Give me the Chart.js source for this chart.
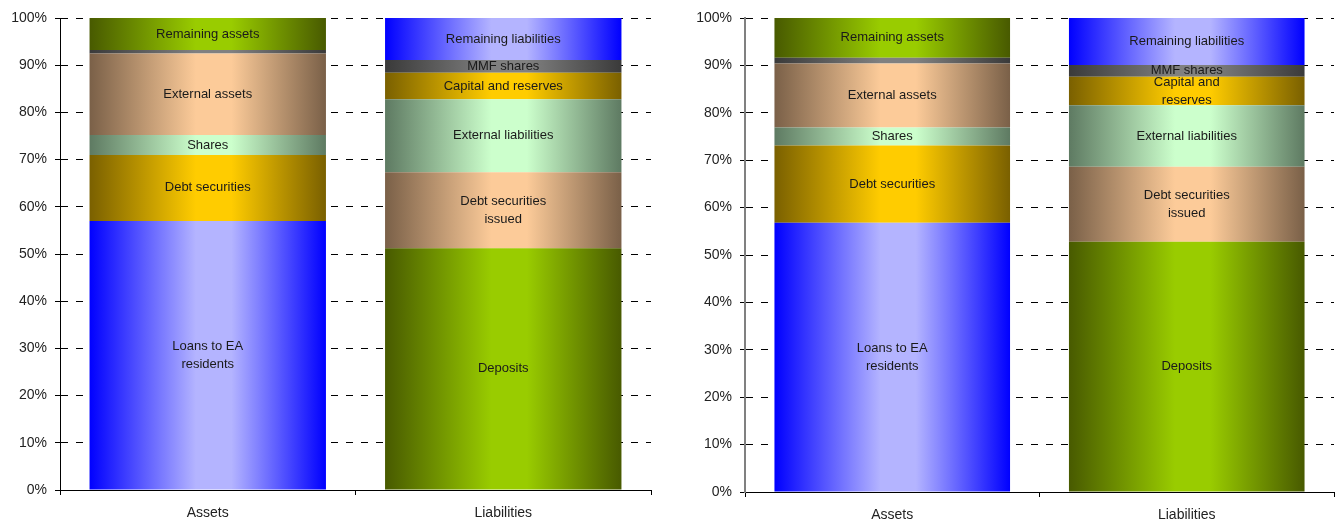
<!DOCTYPE html>
<html>
<head>
<meta charset="utf-8">
<script src="https://cdn.jsdelivr.net/npm/chart.js@4"></script>
<style>
  html, body { margin: 0; padding: 0; background: #fff; }
  body { width: 1335px; height: 520px; position: relative; overflow: hidden; }
  .panel { position: absolute; top: 0; }
</style>
</head>
<body>
<div class="panel" style="left:0"><canvas id="leftChart" width="660" height="520"></canvas></div>
<div class="panel" style="left:670px"><canvas id="rightChart" width="665" height="520"></canvas></div>
<script>
// ======================================
// DATA
// ======================================
const categories = ['Assets', 'Liabilities'];
const yTicks = [0, 10, 20, 30, 40, 50, 60, 70, 80, 90, 100];

// stacking layers, bottom to top (%)
const leftAssets = [57.0, 14.0, 4.2, 17.3, 0.7, 6.8];
const leftLiabilities = [51.2, 16.1, 15.5, 5.6, 2.7, 8.9];
const rightAssets = [56.8, 16.3, 3.8, 13.5, 1.2, 8.4];
const rightLiabilities = [52.8, 15.8, 13.0, 6.0, 2.5, 9.9];

const assetNames = ['Loans to EA\nresidents', 'Debt securities', 'Shares', 'External assets', '', 'Remaining assets'];
const liabilityNamesLeft = ['Deposits', 'Debt securities\nissued', 'External liabilities', 'Capital and reserves', 'MMF shares', 'Remaining liabilities'];
const liabilityNamesRight = ['Deposits', 'Debt securities\nissued', 'External liabilities', 'Capital and\nreserves', 'MMF shares', 'Remaining liabilities'];

const assetColors = ['blue', 'gold', 'mint', 'peach', 'gray', 'olive'];
const liabilityColors = ['olive', 'peach', 'mint', 'gold', 'gray', 'blue'];

// dark edge / light centre of each cylinder-like fill
const PALETTE = {
    blue:  { dark: '#0000ff', light: '#b4b4ff' },
    olive: { dark: '#485a00', light: '#99cc00' },
    peach: { dark: '#7a6048', light: '#fccb99' },
    mint:  { dark: '#5e7a62', light: '#ccffcc' },
    gold:  { dark: '#7a6000', light: '#ffcc00' },
    gray:  { dark: '#3a3a3a', light: '#808080' }
};

const FONT = '"Liberation Sans", Arial, sans-serif';
const BAR_PCT = 0.8;

// ======================================
// HELPERS
// ======================================
function barFill(c, key) {
    const pal = PALETTE[key];
    const chart = c.chart;
    if (!chart.chartArea) return pal.light;
    const xs = chart.scales.x;
    const cx = xs.getPixelForValue(c.dataIndex);
    const half = xs.width / categories.length * BAR_PCT / 2;
    const g = chart.ctx.createLinearGradient(cx - half, 0, cx + half, 0);
    g.addColorStop(0, pal.dark);
    g.addColorStop(0.45, pal.light);
    g.addColorStop(0.6, pal.light);
    g.addColorStop(1, pal.dark);
    return g;
}

// writes the segment names in the middle of each piece of the stack
const segmentLabels = {
    id: 'segmentLabels',
    afterDatasetsDraw(chart, args, opts) {
        const ctx = chart.ctx;
        ctx.save();
        ctx.font = '13px ' + FONT;
        ctx.fillStyle = '#1a1a1a';
        ctx.textAlign = 'center';
        ctx.textBaseline = 'middle';
        chart.data.datasets.forEach((ds, i) => {
            const meta = chart.getDatasetMeta(i);
            meta.data.forEach((bar, j) => {
                const text = opts.names[j][i];
                if (!text) return;
                const lines = text.split('\n');
                const cy = (bar.y + bar.base) / 2;
                lines.forEach((ln, k) => {
                    ctx.fillText(ln, bar.x, cy + (k - (lines.length - 1) / 2) * 18);
                });
            });
        });
        ctx.restore();
    }
};

function buildChart(canvasId, assets, liabilities, liabNames, layout) {
    const datasets = assets.map((v, i) => ({
        label: 'layer' + i,
        data: [v, liabilities[i]],
        backgroundColor: c => barFill(c, [assetColors[i], liabilityColors[i]][c.dataIndex]),
        borderWidth: 0,
        barPercentage: BAR_PCT,
        categoryPercentage: 1
    }));

    return new Chart(document.getElementById(canvasId), {
        type: 'bar',
        data: { labels: categories, datasets },
        options: {
            responsive: false,
            animation: false,
            layout: { padding: { top: 18, right: layout.right, left: 0, bottom: 0 } },
            plugins: {
                legend: { display: false },
                tooltip: { enabled: false },
                segmentLabels: { names: [assetNames, liabNames] }
            },
            scales: {
                x: {
                    stacked: true,
                    grid: { drawOnChartArea: false, drawTicks: true, tickLength: 5, color: '#000', offset: true },
                    border: { display: true, color: '#000', width: 1, z: 1 },
                    ticks: { color: '#222', font: { family: FONT, size: 14 }, padding: 10 },
                    afterFit: s => { s.height = layout.xh; }
                },
                y: {
                    stacked: true,
                    min: 0,
                    max: 100,
                    afterBuildTicks: s => { s.ticks = yTicks.map(v => ({ value: v })); },
                    grid: { color: '#000', lineWidth: 1, tickLength: 5, tickColor: '#000', tickBorderDash: [] },
                    border: { display: true, color: layout.axisColor, width: layout.axisWidth, dash: [7, 8], z: 1 },
                    ticks: {
                        color: '#222',
                        font: { family: FONT, size: 14 },
                        padding: 8,
                        callback: v => v + '%'
                    },
                    afterFit: s => { s.width = layout.yw; }
                }
            }
        },
        plugins: [segmentLabels]
    });
}

document.addEventListener('DOMContentLoaded', function() {
    buildChart('leftChart', leftAssets, leftLiabilities, liabilityNamesLeft,
        { right: 9, xh: 30, yw: 60, axisColor: '#000', axisWidth: 1 });
    buildChart('rightChart', rightAssets, rightLiabilities, liabilityNamesRight,
        { right: 1, xh: 28, yw: 75, axisColor: '#808080', axisWidth: 2 });
});
</script>
</body>
</html>
